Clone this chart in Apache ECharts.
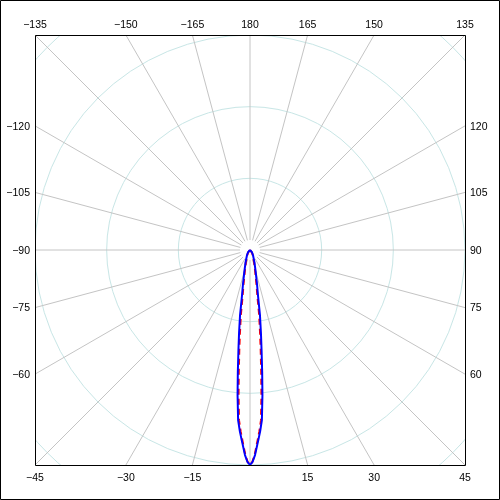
<!DOCTYPE html>
<html>
<head>
<meta charset="utf-8">
<script src="https://cdn.jsdelivr.net/npm/echarts@6/dist/echarts.min.js"></script>
<style>
  html, body { margin: 0; padding: 0; background: #fff; }
  #chart { width: 500px; height: 500px; }
</style>
</head>
<body>
<div id="chart"></div>
<script>
  // lobe: angle in degrees (0 = down), radius normalised to the box half-size
  const blueAngles = [-60, -40, -30, -20, -15, -13.5, -11.5, -10, -8.7, -7.5, -6.6, -5.7, -4.9, -4, -3.2, -2.5, -1.4, -0.7, 0,
    0.7, 1.4, 2.5, 3.2, 4, 4.9, 5.7, 6.6, 7.5, 8.7, 10, 11.5, 13.5, 15, 20, 30, 40, 60];
  const blueRadii = [0, 0.015, 0.028, 0.06, 0.1, 0.12, 0.165, 0.213, 0.306, 0.39, 0.468, 0.57, 0.677, 0.793, 0.845, 0.885, 0.954, 0.985, 1,
    0.985, 0.954, 0.885, 0.845, 0.793, 0.677, 0.57, 0.468, 0.39, 0.306, 0.213, 0.165, 0.12, 0.1, 0.06, 0.028, 0.015, 0];
  const redAngles = [-55, -37, -27.5, -18.4, -13.8, -12.4, -10.6, -9.2, -8.0, -6.9, -6.1, -5.25, -4.5, -3.7, -2.95, -2.3, -1.3, -0.65, 0,
    0.65, 1.3, 2.3, 2.95, 3.7, 4.5, 5.25, 6.1, 6.9, 8.0, 9.2, 10.6, 12.4, 13.8, 18.4, 27.5, 37, 55];
  const redRadii = [0, 0.015, 0.028, 0.06, 0.1, 0.12, 0.165, 0.213, 0.306, 0.39, 0.468, 0.57, 0.677, 0.793, 0.845, 0.885, 0.954, 0.985, 1,
    0.985, 0.954, 0.885, 0.845, 0.793, 0.677, 0.57, 0.468, 0.39, 0.306, 0.213, 0.165, 0.12, 0.1, 0.06, 0.028, 0.015, 0];
  // tick labels round the box (0 is not labelled)
  const labelAngles = [180, 165, 150, 135, 120, 105, 90, 75, 60, 45, 30, 15,
    -15, -30, -45, -60, -75, -90, -105, -120, -135, -150, -165];

  const cx = 250, cy = 250, half = 215;
  const cornerR = half * Math.SQRT2;

  function edgeLabel(a) {
    const rad = a * Math.PI / 180;
    const dx = Math.sin(rad), dy = Math.cos(rad);
    const s = half / Math.max(Math.abs(dx), Math.abs(dy));
    const px = cx + dx * s, py = cy + dy * s;
    const text = a < 0 ? '\u2212' + Math.abs(a) : String(a);
    let x, y, align = 'center';
    if (Math.abs(a) <= 45) { x = px; y = 478; }
    else if (Math.abs(a) >= 135) { x = px; y = 25; }
    else if (a > 0) { x = 470; y = py + 1; align = 'left'; }
    else { x = 30; y = py + 1; align = 'right'; }
    return {
      type: 'text', z: 110, x: x, y: y,
      style: {
        text: text, fill: '#000', font: '10.5px "Liberation Sans", Arial, sans-serif',
        textAlign: align, textVerticalAlign: 'middle', align: align, verticalAlign: 'middle'
      }
    };
  }

  const angleBase = { type: 'value', min: -180, max: 180, interval: 15, startAngle: 90, clockwise: false,
    axisLine: { show: false }, axisTick: { show: false }, axisLabel: { show: false } };

  const chart = echarts.init(document.getElementById('chart'));
  const option = {
    animation: false,
    backgroundColor: '#fff',
    polar: [
      { center: [cx, cy], radius: [0, cornerR] },
      { center: [cx, cy], radius: [10, cornerR] }
    ],
    angleAxis: [
      Object.assign({ polarIndex: 0, splitLine: { show: false } }, angleBase),
      Object.assign({ polarIndex: 1, splitLine: { show: true, lineStyle: { color: '#c4c4c4', width: 1 } } }, angleBase)
    ],
    radiusAxis: [
      { polarIndex: 0, type: 'value', min: 0, max: Math.SQRT2, interval: 1 / 3,
        axisLine: { show: false }, axisTick: { show: false }, axisLabel: { show: false },
        splitLine: { show: true, lineStyle: { color: '#c8e6e6', width: 1 } } },
      { polarIndex: 1, type: 'value', min: 0, max: 1,
        axisLine: { show: false }, axisTick: { show: false }, axisLabel: { show: false },
        splitLine: { show: false } }
    ],
    series: [
      {
        type: 'line', coordinateSystem: 'polar', polarIndex: 0, showSymbol: false, z: 3,
        data: redRadii.map((r, i) => [r, redAngles[i]]),
        lineStyle: { color: '#ff0000', width: 2, type: [6, 4] }
      },
      {
        type: 'line', coordinateSystem: 'polar', polarIndex: 0, showSymbol: false, z: 4,
        data: blueRadii.map((r, i) => [r, blueAngles[i]]),
        lineStyle: { color: '#0000ff', width: 2 }
      }
    ],
    graphic: [
      // white masks so the polar grid is clipped to the square box
      { type: 'rect', z: 100, shape: { x: 0, y: 0, width: 500, height: 35 }, style: { fill: '#fff' } },
      { type: 'rect', z: 100, shape: { x: 0, y: 466, width: 500, height: 34 }, style: { fill: '#fff' } },
      { type: 'rect', z: 100, shape: { x: 0, y: 0, width: 35, height: 500 }, style: { fill: '#fff' } },
      { type: 'rect', z: 100, shape: { x: 466, y: 0, width: 34, height: 500 }, style: { fill: '#fff' } },
      { type: 'rect', z: 105, shape: { x: 35.5, y: 35.5, width: 430, height: 430 }, style: { fill: null, stroke: '#000', lineWidth: 1 } },
      { type: 'rect', z: 105, shape: { x: 0.5, y: 0.5, width: 499, height: 499 }, style: { fill: null, stroke: '#000', lineWidth: 1 } }
    ].concat(labelAngles.map(edgeLabel))
  };
  chart.setOption(option);
</script>
</body>
</html>
